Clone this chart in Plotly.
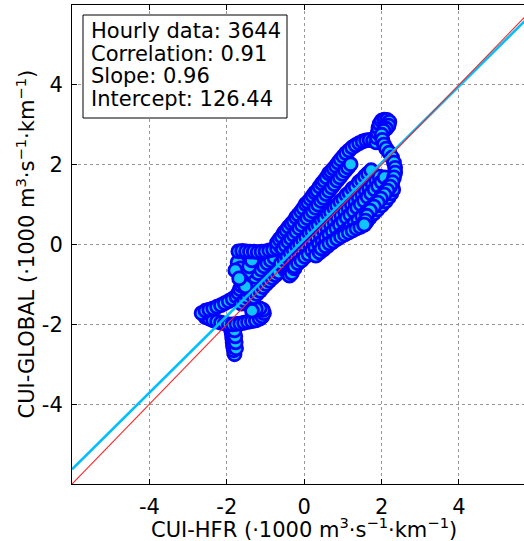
import plotly.graph_objects as go

# ---- data (units: 1000 m3 s-1 km-1) ----
stub_x = [-1.80, -1.82, -1.84, -1.85, -1.86, -1.87, -1.89, -1.91, -1.76, -1.77, -1.78, -1.80]
stub_y = [-2.75, -2.65, -2.55, -2.45, -2.35, -2.25, -2.15, -2.05, -2.60, -2.45, -2.30, -2.15]

lowband_x = [-2.55, -2.45, -2.35, -2.25, -2.15, -2.05, -1.95, -1.85, -1.75, -1.65, -1.55,
             -1.45, -1.35, -1.25, -1.15, -1.08, -1.04, -1.07, -1.15, -1.25, -1.35]
lowband_y = [-1.82, -1.86, -1.90, -1.93, -1.96, -1.98, -2.00, -2.00, -1.99, -1.98, -1.96,
             -1.94, -1.92, -1.90, -1.86, -1.80, -1.72, -1.64, -1.60, -1.62, -1.66]

upband_x = [-2.65, -2.55, -2.45, -2.35, -2.25, -2.15, -2.05, -1.95, -1.85, -1.75, -1.65]
upband_y = [-1.72, -1.66, -1.63, -1.60, -1.56, -1.52, -1.47, -1.42, -1.36, -1.30, -1.22]

diag_a_x = [-1.75, -1.70, -1.66, -1.62, -1.58, -1.53, -1.48, -1.43, -1.38, -1.32, -1.25, -1.17, -1.08, -0.98]
diag_a_y = [-1.30, -1.21, -1.12, -1.03, -0.95, -0.87, -0.78, -0.70, -0.62, -0.54, -0.47, -0.41, -0.36, -0.32]

diag_b_x = [-1.62, -1.54, -1.46, -1.38, -1.30, -1.22, -1.14, -1.06, -0.98, -0.90, -0.82, -0.74, -0.66, -0.58]
diag_b_y = [-1.48, -1.40, -1.32, -1.23, -1.14, -1.05, -0.96, -0.87, -0.79, -0.71, -0.63, -0.56, -0.49, -0.42]

diag_c_x = [-1.50, -1.42, -1.35, -1.27, -1.19, -1.11, -1.03, -0.95, -0.86, -0.77]
diag_c_y = [-1.10, -1.00, -0.90, -0.81, -0.72, -0.63, -0.55, -0.47, -0.40, -0.33]

diag_d_x = [-1.30, -1.22, -1.14, -1.06, -0.98, -0.90, -0.82, -0.74, -0.66]
diag_d_y = [-1.32, -1.24, -1.16, -1.07, -0.99, -0.91, -0.84, -0.77, -0.70]

filler_x = [-1.72, -1.65, -1.58, -1.50, -1.42, -1.35, -1.62, -1.52, -1.78, -1.68]
filler_y = [-0.45, -0.60, -0.75, -0.70, -0.55, -0.40, -0.90, -1.05, -0.65, -0.85]

band0_x = [-1.70, -1.60, -1.50, -1.40, -1.30, -1.20, -1.10, -1.00, -0.90, -0.80, -0.70, -0.60, -0.50, -0.40]
band0_y = [-0.17, -0.16, -0.17, -0.18, -0.18, -0.19, -0.18, -0.17, -0.15, -0.13, -0.10, -0.06, -0.02, 0.03]

dip_x = [-0.55, -0.48, -0.42, -0.38, -0.32, -0.25, -0.18]
dip_y = [-0.55, -0.65, -0.72, -0.78, -0.72, -0.60, -0.48]

t1_x = [-0.70, -0.64, -0.58, -0.52, -0.46, -0.40, -0.33, -0.27, -0.21, -0.15,
        -0.08, -0.02, 0.04, 0.10, 0.16, 0.22, 0.28, 0.34, 0.40, 0.46,
        0.52, 0.58, 0.64, 0.70, 0.76, 0.82, 0.88, 0.94, 1.01, 1.08,
        1.16, 1.24, 1.33, 1.42, 1.51, 1.60, 1.69, 1.78, 1.86]
t1_y = [0.05, 0.13, 0.20, 0.30, 0.36, 0.44, 0.52, 0.58, 0.68, 0.75,
        0.83, 0.91, 1.01, 1.06, 1.14, 1.22, 1.30, 1.35, 1.45, 1.53,
        1.60, 1.68, 1.78, 1.83, 1.90, 1.97, 2.05, 2.13, 2.21, 2.29,
        2.36, 2.43, 2.49, 2.54, 2.58, 2.61, 2.62, 2.60, 2.56]

t2_x = [-0.55, -0.48, -0.41, -0.34, -0.27, -0.20, -0.13, -0.06, 0.01, 0.08,
        0.15, 0.22, 0.29, 0.36, 0.43, 0.50, 0.57, 0.64, 0.71, 0.78,
        0.85, 0.92, 0.99, 1.06, 1.13, 1.20]
t2_y = [-0.10, -0.02, 0.07, 0.15, 0.24, 0.32, 0.41, 0.49, 0.58, 0.66,
        0.75, 0.83, 0.92, 1.00, 1.09, 1.17, 1.26, 1.34, 1.43, 1.51,
        1.60, 1.68, 1.77, 1.85, 1.93, 2.01]

t3_x = [-0.60, -0.51, -0.43, -0.35, -0.27, -0.19, -0.11, -0.03, 0.05, 0.13,
        0.21, 0.29, 0.37, 0.45, 0.53, 0.61, 0.69, 0.77, 0.85, 0.93,
        1.01, 1.09, 1.17, 1.25, 1.33, 1.41, 1.49, 1.57, 1.65, 1.73]
t3_y = [-0.47, -0.38, -0.31, -0.20, -0.14, -0.03, 0.02, 0.12, 0.18, 0.29,
        0.34, 0.45, 0.50, 0.61, 0.66, 0.77, 0.82, 0.93, 0.98, 1.08,
        1.14, 1.24, 1.30, 1.40, 1.45, 1.56, 1.62, 1.71, 1.78, 1.86]

t3b_x = [-0.30, -0.21, -0.12, -0.03, 0.06, 0.15, 0.24, 0.33, 0.42, 0.51,
         0.60, 0.69, 0.78, 0.87, 0.96, 1.05, 1.14, 1.23, 1.32, 1.41,
         1.50, 1.59, 1.68, 1.77, 1.86, 1.95]
t3b_y = [-0.42, -0.33, -0.26, -0.17, -0.09, 0.00, 0.07, 0.16, 0.24, 0.33,
         0.41, 0.50, 0.57, 0.66, 0.74, 0.83, 0.91, 1.00, 1.08, 1.17,
         1.25, 1.34, 1.42, 1.51, 1.60, 1.70]

t4_x = [-0.25, -0.16, -0.07, 0.02, 0.11, 0.20, 0.29, 0.38, 0.47, 0.56,
        0.65, 0.74, 0.83, 0.92, 1.01, 1.10, 1.19, 1.28, 1.37, 1.46,
        1.55, 1.64, 1.73, 1.82, 1.91, 2.00, 2.08]
t4_y = [-0.55, -0.47, -0.40, -0.31, -0.24, -0.15, -0.08, 0.01, 0.08, 0.17,
        0.25, 0.33, 0.41, 0.50, 0.58, 0.67, 0.75, 0.84, 0.93, 1.01,
        1.10, 1.19, 1.28, 1.38, 1.47, 1.57, 1.68]

t4b_x = [0.30, 0.40, 0.50, 0.60, 0.70, 0.80, 0.90, 1.00, 1.10, 1.20,
         1.30, 1.40, 1.50, 1.60, 1.70, 1.80, 1.90, 2.00, 2.10, 2.18]
t4b_y = [-0.28, -0.20, -0.12, -0.04, 0.04, 0.12, 0.20, 0.28, 0.37, 0.45,
         0.54, 0.62, 0.71, 0.80, 0.90, 1.00, 1.10, 1.22, 1.34, 1.46]

t5_x = [0.45, 0.55, 0.65, 0.75, 0.85, 0.95, 1.05, 1.15, 1.25, 1.35, 1.45,
        1.55, 1.62, 1.70, 1.80, 1.90, 2.00, 2.10, 2.18, 2.25, 2.30]
t5_y = [-0.10, -0.04, 0.03, 0.08, 0.14, 0.20, 0.25, 0.30, 0.35, 0.40, 0.44,
        0.50, 0.58, 0.68, 0.78, 0.88, 0.98, 1.08, 1.18, 1.28, 1.38]

spur_x = [1.88, 1.90, 1.92, 1.95, 2.00, 2.07, 2.14, 2.20, 2.18, 2.12, 2.05, 2.00]
spur_y = [2.68, 2.80, 2.92, 3.02, 3.10, 3.13, 3.12, 3.07, 2.98, 2.90, 2.85, 2.75]

lobe_x = [2.02, 2.06, 2.12, 2.20, 2.27, 2.32, 2.35, 2.35, 2.32, 2.28, 2.22,
          2.15, 2.07, 1.98, 1.90, 1.80, 1.70, 1.62, 1.58, 1.55]
lobe_y = [2.62, 2.50, 2.40, 2.30, 2.18, 2.05, 1.92, 1.80, 1.68, 1.56, 1.45,
          1.35, 1.25, 1.15, 1.05, 0.95, 0.85, 0.72, 0.60, 0.50]

n_hourly = 3644
correlation = 0.91
slope = 0.96
intercept = 126.44  # m3 s-1 km-1

tick_vals = [-4, -2, 0, 2, 4]
tick_text = ["-4", "-2", "0", "2", "4"]
line_ends = [-6, 6]

segments = [(stub_x, stub_y), (lowband_x, lowband_y), (upband_x, upband_y),
            (diag_a_x, diag_a_y), (diag_b_x, diag_b_y), (diag_c_x, diag_c_y),
            (diag_d_x, diag_d_y), (filler_x, filler_y), (band0_x, band0_y),
            (dip_x, dip_y), (t1_x, t1_y), (t2_x, t2_y), (t3_x, t3_y),
            (t3b_x, t3b_y), (t4_x, t4_y), (t4b_x, t4b_y), (t5_x, t5_y),
            (spur_x, spur_y), (lobe_x, lobe_y)]
hfr, glob = [], []
for sx, sy in segments:
    for a, b in zip(sx, sy):
        hfr.append(a)
        glob.append(b)

FONT = "DejaVu Sans"
fig = go.Figure()
fig.add_trace(go.Scatter(
    x=hfr, y=glob, mode="markers",
    marker=dict(size=13, color="#0FC4FF", line=dict(color="#0000FF", width=2.8)),
    showlegend=False))
fig.add_trace(go.Scatter(
    x=line_ends, y=[slope * v + intercept / 1000 for v in line_ends], mode="lines",
    line=dict(color="#00BFFF", width=2.6), showlegend=False))
fig.add_trace(go.Scatter(
    x=line_ends, y=line_ends, mode="lines",
    line=dict(color="#FF2020", width=1.1), showlegend=False))

axis_common = dict(
    showgrid=True, gridcolor="#999999", griddash="dot", gridwidth=1,
    zeroline=False, showline=True, linecolor="black", linewidth=1,
    ticks="inside", ticklen=5, tickcolor="black",
    tickfont=dict(family=FONT, size=21, color="black"),
    tickvals=tick_vals, ticktext=tick_text, ticklabelstandoff=4,
)
fig.update_xaxes(range=[-6, 5.68], mirror="ticks", **axis_common)
fig.update_yaxes(range=[-6, 6], mirror=False, **axis_common)

lines = [f"Hourly data: {n_hourly}", f"Correlation: {correlation:.2f}",
         f"Slope: {slope:.2f}", f"Intercept: {intercept:.2f}"]
annotations = []
for i, t in enumerate(lines):
    annotations.append(dict(
        text=t, xref="paper", yref="paper", x=(89 - 72) / 452, y=1 - (17 + i * 22.5 - 5) / 479,
        xanchor="left", yanchor="top", showarrow=False,
        font=dict(family=FONT, size=21, color="black")))
annotations.append(dict(
    text="CUI-HFR (·1000 m<sup>3</sup>·s<sup>−1</sup>·km<sup>−1</sup>)",
    xref="paper", yref="paper", x=(304 - 72) / 452, y=(484 - 528) / 479,
    xanchor="center", yanchor="middle", showarrow=False,
    font=dict(family=FONT, size=21, color="black")))
annotations.append(dict(
    text="CUI-GLOBAL (·1000 m<sup>3</sup>·s<sup>−1</sup>·km<sup>−1</sup>)",
    xref="paper", yref="paper", x=(25 - 72) / 452, y=0.5, textangle=-90,
    xanchor="center", yanchor="middle", showarrow=False,
    font=dict(family=FONT, size=21, color="black")))

fig.update_layout(
    width=524, height=541,
    margin=dict(l=72, r=0, t=5, b=57),
    plot_bgcolor="white", paper_bgcolor="white",
    annotations=annotations,
    shapes=[dict(type="rect", xref="paper", yref="paper",
                 x0=(83 - 72) / 452, x1=(287 - 72) / 452,
                 y0=1 - (118 - 5) / 479, y1=1 - (15 - 5) / 479,
                 line=dict(color="black", width=1), fillcolor="white", layer="above")],
)
fig.write_html("out.html", config={"displayModeBar": False},
               post_script="document.body.style.margin='0px';")
